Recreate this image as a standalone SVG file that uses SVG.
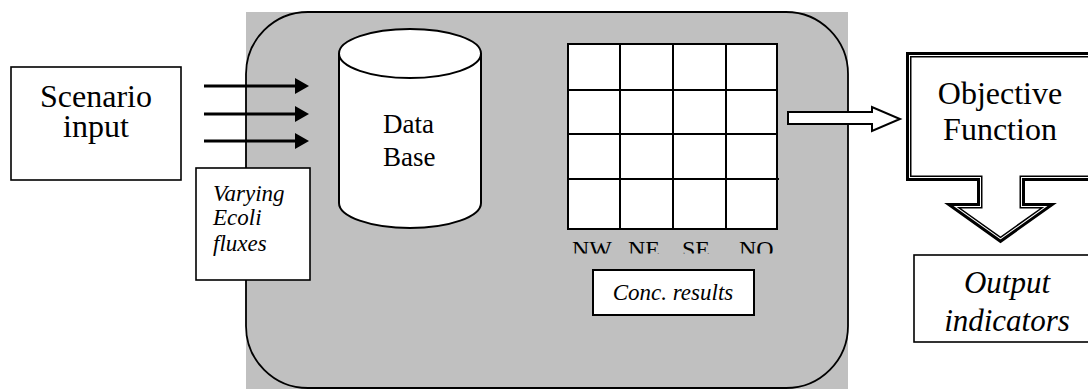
<svg xmlns="http://www.w3.org/2000/svg" width="1088" height="389" viewBox="0 0 1088 389">
<style>
.t{font-family:'Liberation Serif','Times New Roman',serif;fill:#000}
.i{font-style:italic}
.box{fill:#fff;stroke:#000;stroke-width:1.6}
.gl{stroke:#000;stroke-width:2;fill:none}
</style>
<defs>
<clipPath id="lblclip"><rect x="540" y="230" width="260" height="23.5"/></clipPath>
</defs>
<rect width="1088" height="389" fill="#fff"/>
<g id="model">
<rect x="246" y="12" width="602" height="377" fill="#c0c0c0"/>
<rect x="246" y="12" width="602" height="376" rx="62" ry="62" fill="none" stroke="#000" stroke-width="1.8"/>
</g>
<g id="scenario">
<rect class="box" x="11" y="67" width="170" height="113"/>
<text class="t" x="96" y="107" font-size="32" text-anchor="middle">Scenario</text>
<text class="t" x="96" y="137" font-size="32" text-anchor="middle">input</text>
</g>
<g id="connectors">
<line x1="204" y1="86" x2="296" y2="86" stroke="#000" stroke-width="3"/>
<polygon points="295,78 309,86 295,94" fill="#000"/>
<line x1="204" y1="114" x2="296" y2="114" stroke="#000" stroke-width="3"/>
<polygon points="295,106 309,114 295,122" fill="#000"/>
<line x1="204" y1="141" x2="296" y2="141" stroke="#000" stroke-width="3"/>
<polygon points="295,133 309,141 295,149" fill="#000"/>
<polygon points="788,112 872,112 872,107 900,119 872,131 872,124 788,124" fill="#fff" stroke="#000" stroke-width="2"/>
</g>
<g id="fluxes">
<rect class="box" x="196" y="168" width="114" height="112"/>
<text class="t i" x="213" y="201" font-size="23">Varying</text>
<text class="t i" x="213" y="225" font-size="23">Ecoli</text>
<text class="t i" x="213" y="251" font-size="23">fluxes</text>
</g>
<g id="database">
<path d="M339,53.5 L339,203 A71,25 0 0 0 481,203 L481,53.5 A71,24.5 0 0 0 339,53.5 Z" fill="#fff" stroke="#000" stroke-width="2"/>
<path d="M339,53.5 A71,24.5 0 0 0 481,53.5" fill="none" stroke="#000" stroke-width="2"/>
<text class="t" x="383" y="133" font-size="27">Data</text>
<text class="t" x="383" y="166" font-size="27">Base</text>
</g>
<g id="grid">
<rect x="568" y="44" width="209" height="185" fill="#fff" stroke="#000" stroke-width="2"/>
<line class="gl" x1="620" y1="44" x2="620" y2="229"/>
<line class="gl" x1="673" y1="44" x2="673" y2="229"/>
<line class="gl" x1="726" y1="44" x2="726" y2="229"/>
<line class="gl" x1="568" y1="90" x2="777" y2="90"/>
<line class="gl" x1="568" y1="134" x2="777" y2="134"/>
<line class="gl" x1="568" y1="179" x2="779" y2="179"/>
<g clip-path="url(#lblclip)">
<text class="t" x="572" y="256.5" font-size="24">NW</text>
<text class="t" x="628" y="256.5" font-size="24">NE</text>
<text class="t" x="682" y="256.5" font-size="24">SE</text>
<text class="t" x="739" y="256.5" font-size="24">NO</text>
</g>
</g>
<g id="conc">
<rect x="593" y="270" width="161" height="45" fill="#fff" stroke="#000" stroke-width="2"/>
<text class="t i" x="673" y="300" font-size="23" text-anchor="middle">Conc. results</text>
</g>
<g id="objective">
<path d="M907.5,53.5 L1093.5,53.5 L1093.5,179.5 L1023.5,179.5 L1023.5,204.5 L1052.2,204.5 L1000.5,241.3 L948.8,204.5 L978.5,204.5 L978.5,179.5 L907.5,179.5 Z" fill="#fff" stroke="#000" stroke-width="3" stroke-miterlimit="10"/>
<path d="M910.75,56.75 L1090.25,56.75 L1090.25,176.25 L1020.25,176.25 L1020.25,207.75 L1042,207.75 L1000.5,237.35 L959,207.75 L981.75,207.75 L981.75,176.25 L910.75,176.25 Z" fill="#fff" stroke="#000" stroke-width="1.5" stroke-miterlimit="10"/>
<text class="t" x="1000" y="104" font-size="32" text-anchor="middle">Objective</text>
<text class="t" x="1000" y="140" font-size="32" text-anchor="middle">Function</text>
</g>
<g id="output">
<rect class="box" x="914" y="255" width="186" height="87"/>
<text class="t i" x="1007" y="293" font-size="31" text-anchor="middle">Output</text>
<text class="t i" x="1007" y="331" font-size="31" text-anchor="middle">indicators</text>
</g>
</svg>
